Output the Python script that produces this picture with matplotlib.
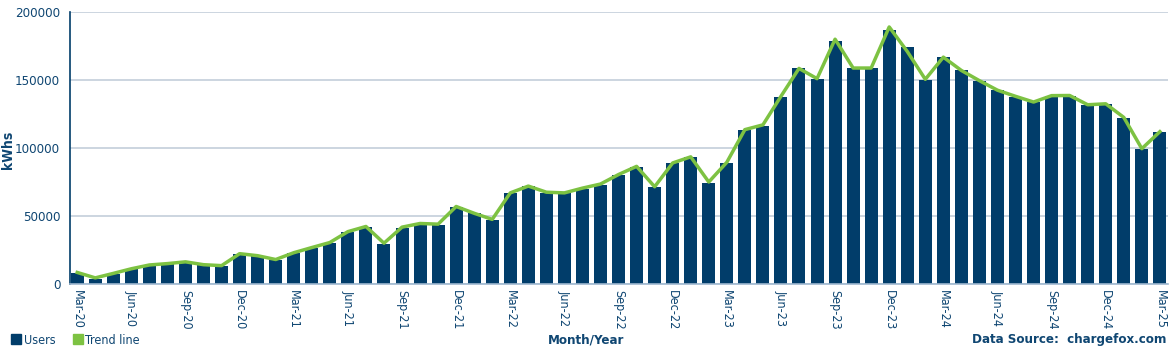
import matplotlib.pyplot as plt
import numpy as np
from matplotlib.lines import Line2D

plt.rcParams['font.stretch'] = 'condensed'

# Monthly energy (kWhs), Mar-20 .. Mar-25
months = ['Mar-20', 'Apr-20', 'May-20', 'Jun-20', 'Jul-20', 'Aug-20', 'Sep-20', 'Oct-20', 'Nov-20', 'Dec-20',
          'Jan-21', 'Feb-21', 'Mar-21', 'Apr-21', 'May-21', 'Jun-21', 'Jul-21', 'Aug-21', 'Sep-21', 'Oct-21',
          'Nov-21', 'Dec-21', 'Jan-22', 'Feb-22', 'Mar-22', 'Apr-22', 'May-22', 'Jun-22', 'Jul-22', 'Aug-22',
          'Sep-22', 'Oct-22', 'Nov-22', 'Dec-22', 'Jan-23', 'Feb-23', 'Mar-23', 'Apr-23', 'May-23', 'Jun-23',
          'Jul-23', 'Aug-23', 'Sep-23', 'Oct-23', 'Nov-23', 'Dec-23', 'Jan-24', 'Feb-24', 'Mar-24', 'Apr-24',
          'May-24', 'Jun-24', 'Jul-24', 'Aug-24', 'Sep-24', 'Oct-24', 'Nov-24', 'Dec-24', 'Jan-25', 'Feb-25',
          'Mar-25']
users = [7900, 3900, 7400, 11000, 13500, 14500, 15700, 13700, 13200, 21900,
         20600, 17900, 22600, 26300, 30000, 38100, 41700, 29400, 41500, 43200,
         43200, 56700, 52500, 47100, 66800, 72100, 66800, 66800, 70200, 72600,
         80200, 86100, 71200, 88800, 93200, 74600, 89100, 113400, 116300, 137400,
         158600, 150900, 178400, 158500, 158600, 187000, 174000, 150000, 166600, 157300,
         149400, 142600, 137700, 133500, 137900, 138400, 131500, 132200, 122200, 99200,
         111700]
trend = [8500, 4500, 7800, 11200, 14000, 15000, 16300, 14200, 13500, 22300,
         20800, 18000, 23000, 26800, 30500, 38500, 42300, 30000, 41800, 44500,
         44000, 57000, 52000, 47500, 67000, 72000, 67500, 67000, 70500, 73500,
         80500, 86500, 71500, 89000, 93500, 75000, 89500, 113500, 117000, 138000,
         158500, 151000, 180000, 158800, 158800, 189000, 171000, 150500, 166800, 157000,
         149500, 142500, 138000, 133800, 138500, 138600, 131800, 132500, 122500, 99500,
         112000]

NAVY = '#013d6a'
GREEN = '#7dc242'
TEXT = '#0f4672'

fig = plt.figure(figsize=(11.71, 3.54), dpi=100)
ax = fig.add_axes([70 / 1171, 70 / 354, 1098 / 1171, 272 / 354])

x = np.arange(len(months))
ax.bar(x, users, width=0.72, color=NAVY, zorder=2)
ax.plot(x, trend, color=GREEN, lw=2.5, zorder=3)

ax.set_xlim(-0.4, len(months) - 0.55)
ax.set_ylim(0, 200000)
ax.set_yticks([0, 50000, 100000, 150000, 200000])
ax.set_yticklabels(['0', '50000', '100000', '150000', '200000'], color=TEXT, fontsize=9.5)
ax.yaxis.grid(True, color='#c8d2dd', lw=1.3, zorder=0)
ax.tick_params(axis='y', length=0, pad=7)

ax.set_xticks(x[::3])
ax.set_xticklabels(months[::3], rotation=270, color=TEXT, fontsize=9)
ax.tick_params(axis='x', length=0, pad=4)

for s in ['top', 'right']:
    ax.spines[s].set_visible(False)
ax.spines['left'].set_color(NAVY)
ax.spines['left'].set_linewidth(1.2)
ax.spines['bottom'].set_color('#9fb8cf')
ax.spines['bottom'].set_linewidth(1.2)

fig.text(8 / 1171, 1 - 150 / 354, 'kWhs', rotation=90, color=TEXT, fontsize=10,
         fontweight='bold', ha='center', va='center')
fig.text(586 / 1171, 1 - 340 / 354, 'Month/Year', color=TEXT, fontsize=9.5,
         fontweight='bold', ha='center', va='center')
fig.text(1166 / 1171, 1 - 340 / 354, 'Data Source:  chargefox.com', color=TEXT, fontsize=9.5,
         fontweight='bold', ha='right', va='center')

handles = [Line2D([], [], marker='s', ls='', color=NAVY, markersize=7.5),
           Line2D([], [], marker='s', ls='', color=GREEN, markersize=7.5)]
fig.legend(handles, ['Users', 'Trend line'], loc='center left', bbox_to_anchor=(5 / 1171, 1 - 340 / 354),
           ncol=2, frameon=False, fontsize=9, labelcolor=TEXT, handletextpad=0.1,
           columnspacing=1.3, handlelength=1.0, borderaxespad=0)

fig.savefig('out.png', dpi=100)
